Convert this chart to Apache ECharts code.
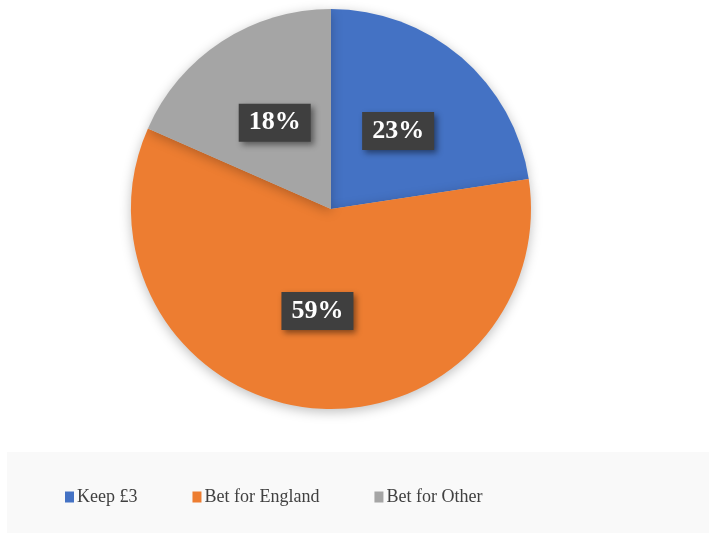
<!DOCTYPE html>
<html>
<head>
<meta charset="utf-8">
<script src="https://cdn.jsdelivr.net/npm/echarts@6/dist/echarts.min.js"></script>
<style>
  html, body { margin: 0; padding: 0; background: #fff; }
  #chart { width: 709px; height: 534px; }
</style>
</head>
<body>
<div id="chart"></div>
<script>
var categories = ['Keep £3', 'Bet for England', 'Bet for Other']
var values = [22.6, 59.0, 18.4]
var colors = ['#4472c4', '#ed7d31', '#a5a5a5']

var chart = echarts.init(document.getElementById('chart'))

var pieData = []
for (var i = 0; i < categories.length; i++) {
  pieData.push({ name: categories[i], value: values[i] })
}

var option = {
  animation: false,
  color: colors,
  graphic: [{
    type: 'rect',
    z: -1,
    shape: { x: 7, y: 452, width: 702, height: 81 },
    style: { fill: '#f9f9f9' }
  }],
  legend: {
    left: 60,
    top: 483,
    itemWidth: 9,
    itemHeight: 11,
    itemGap: 55,
    icon: 'rect',
    textStyle: {
      fontFamily: 'Liberation Serif, Times New Roman, serif',
      fontSize: 18,
      color: '#404040',
      padding: [0, 0, 0, -2]
    },
    data: categories
  },
  series: [{
    type: 'pie',
    center: [331, 209],
    radius: 200,
    startAngle: 90,
    clockwise: true,
    data: pieData,
    itemStyle: {
      borderWidth: 0,
      shadowBlur: 12,
      shadowColor: 'rgba(0,0,0,0.25)',
      shadowOffsetY: 3
    },
    emphasis: { disabled: true },
    label: {
      show: true,
      position: 'inside',
      formatter: function (p) { return Math.round(p.percent) + '%' },
      fontFamily: 'Liberation Serif, Times New Roman, serif',
      fontWeight: 'bold',
      fontSize: 26,
      color: '#fff',
      backgroundColor: '#3f3f3f',
      padding: [7, 10, 5, 10],
      shadowBlur: 6,
      shadowColor: 'rgba(0,0,0,0.45)',
      shadowOffsetX: 3,
      shadowOffsetY: 3
    },
    labelLine: { show: false }
  }]
}

chart.setOption(option)
</script>
</body>
</html>
